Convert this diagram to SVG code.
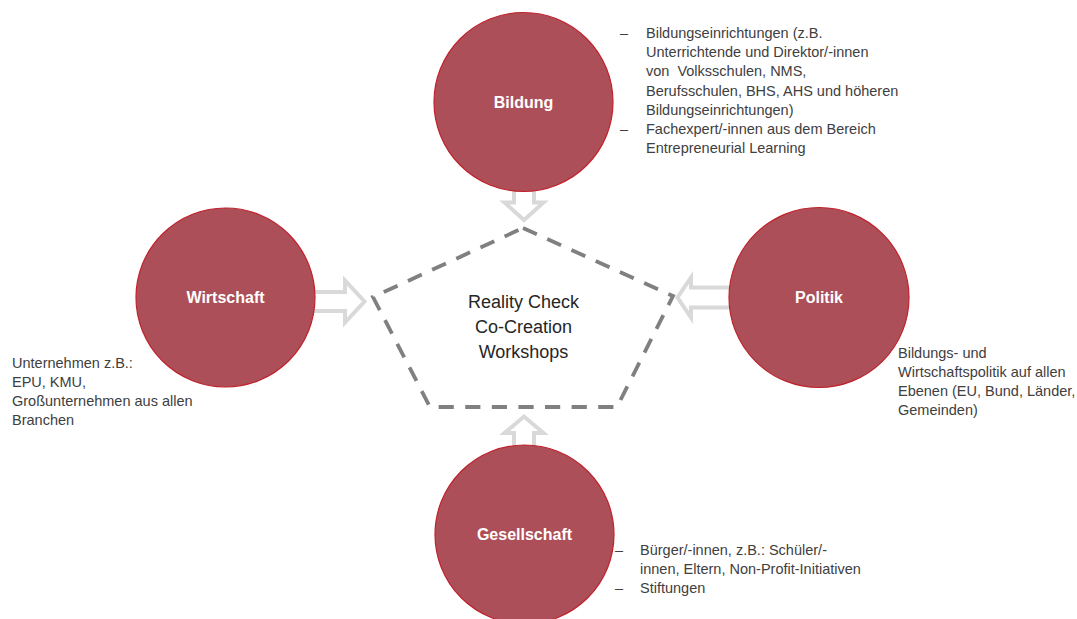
<svg xmlns="http://www.w3.org/2000/svg" width="1077" height="619" viewBox="0 0 1077 619">
  <style>
    .bg { fill: #ffffff; }
    .node { fill: #ad4f58; stroke: #c0222c; stroke-width: 1.2; }
    .label { font-family: "Liberation Sans", Arial, sans-serif; font-weight: bold; font-size: 16px; fill: #ffffff; text-anchor: middle; }
    .note { font-family: "Liberation Sans", Arial, sans-serif; font-size: 14.5px; fill: #404040; white-space: pre; }
    .core { font-family: "Liberation Sans", Arial, sans-serif; font-size: 18px; fill: #262626; text-anchor: middle; }
    .flow { fill: #ffffff; stroke: #d9d9d9; stroke-width: 4; stroke-linejoin: miter; }
    .frame { fill: none; stroke: #808080; stroke-width: 3.8; stroke-dasharray: 15.2 11.4; }
  </style>

  <rect class="bg" x="0" y="0" width="1077" height="619"/>

  <!-- hollow block arrows pointing into the workshop frame -->
  <g id="connectors">
    <path class="flow" d="M514,180 V202.5 H504.5 L524,220 L543.5,202.5 H534 V180 Z"/>
    <path class="flow" d="M305,292 H345 V280.5 L364.5,301.5 L345,322.5 V311 H305 Z"/>
    <path class="flow" d="M740,287.5 H691 V277.5 L677.5,297.5 L691,317.5 V307.5 H740 Z"/>
    <path class="flow" d="M514,455 V433 H504.5 L524,416.5 L543.5,433 H534 V455 Z"/>
  </g>

  <!-- central dashed pentagon with workshop title -->
  <g id="workshop">
    <path class="frame" d="M523,228 L673,296 L617,407 L430,407 L373,297 Z"/>
    <text class="core" x="523.5" y="308">Reality Check</text>
    <text class="core" x="523.5" y="333">Co-Creation</text>
    <text class="core" x="523.5" y="358">Workshops</text>
  </g>

  <g id="bildung">
    <circle class="node" cx="523.5" cy="102" r="89.5"/>
    <text class="label" x="523.5" y="107.5">Bildung</text>
    <text class="note" x="620" y="38.3">–</text>
    <text class="note" x="646" y="38.3">Bildungseinrichtungen (z.B.</text>
    <text class="note" x="646" y="57.3">Unterrichtende und Direktor/-innen</text>
    <text class="note" x="646" y="76.3">von  Volksschulen, NMS,</text>
    <text class="note" x="646" y="95.5">Berufsschulen, BHS, AHS und höheren</text>
    <text class="note" x="646" y="114.5">Bildungseinrichtungen)</text>
    <text class="note" x="620" y="133.5">–</text>
    <text class="note" x="646" y="133.5">Fachexpert/-innen aus dem Bereich</text>
    <text class="note" x="646" y="152.7">Entrepreneurial Learning</text>
  </g>

  <g id="wirtschaft">
    <circle class="node" cx="225.5" cy="297.5" r="89.5"/>
    <text class="label" x="225.5" y="303">Wirtschaft</text>
    <text class="note" x="12" y="367.6">Unternehmen z.B.:</text>
    <text class="note" x="12" y="386.8">EPU, KMU,</text>
    <text class="note" x="12" y="406">Großunternehmen aus allen</text>
    <text class="note" x="12" y="425">Branchen</text>
  </g>

  <g id="politik">
    <circle class="node" cx="819" cy="297.5" r="90"/>
    <text class="label" x="819" y="303">Politik</text>
    <text class="note" x="898" y="357.7">Bildungs- und</text>
    <text class="note" x="898" y="376.8">Wirtschaftspolitik auf allen</text>
    <text class="note" x="898" y="396">Ebenen (EU, Bund, Länder,</text>
    <text class="note" x="898" y="415">Gemeinden)</text>
  </g>

  <g id="gesellschaft">
    <circle class="node" cx="524.5" cy="534.5" r="89.5"/>
    <text class="label" x="524.5" y="540">Gesellschaft</text>
    <text class="note" x="615" y="554.5">–</text>
    <text class="note" x="640" y="554.5">Bürger/-innen, z.B.: Schüler/-</text>
    <text class="note" x="640" y="573.5">innen, Eltern, Non-Profit-Initiativen</text>
    <text class="note" x="615" y="592.5">–</text>
    <text class="note" x="640" y="592.5">Stiftungen</text>
  </g>
</svg>
